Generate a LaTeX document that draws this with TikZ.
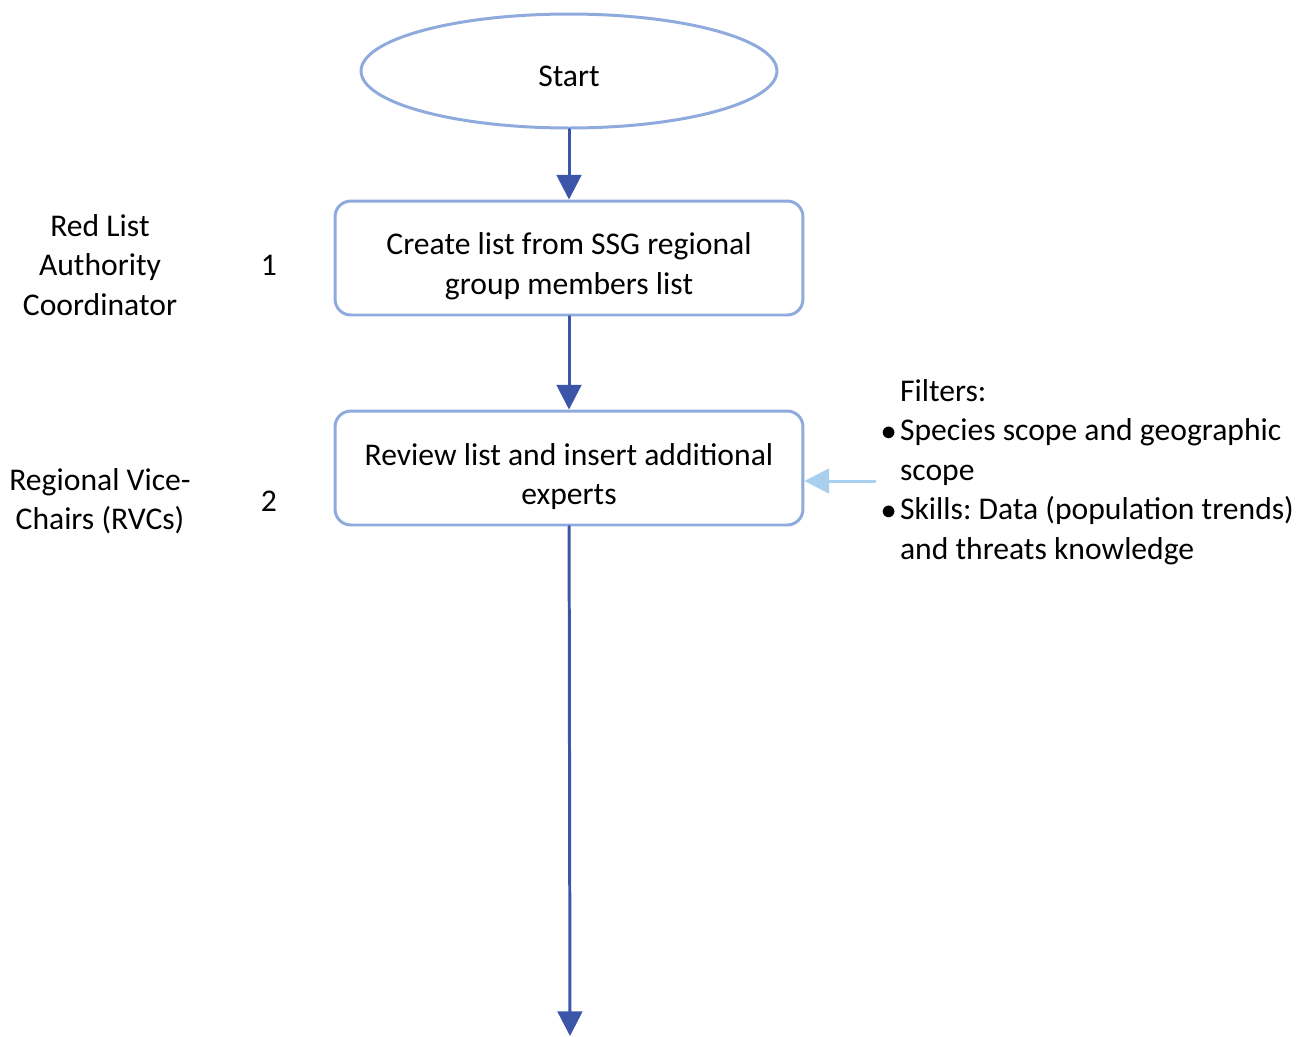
\documentclass[tikz,border=0pt]{standalone}
\usepackage{fontspec}
\setmainfont{Carlito}
\frenchspacing
\usetikzlibrary{arrows.meta,shapes.geometric}
\definecolor{edgeblue}{HTML}{8FAADC}
\definecolor{flowblue}{HTML}{3B56A8}
\definecolor{paleblue}{HTML}{A9CFEE}
\begin{document}
\begin{tikzpicture}[x=0.02cm,y=-0.02cm,line cap=round,line join=round,font=\fontsize{18}{22.5}\selectfont,
	flow/.style={draw=flowblue,line width=1.7pt,-{Triangle[width=14pt,length=14pt]}},
	stepbox/.style={draw=edgeblue,line width=1.7pt,rounded corners=9pt,minimum width=9.36cm,minimum height=2.28cm,align=center},
	role/.style={align=center}]
	\useasboundingbox (0,0) rectangle (1297,1036);
	\node[ellipse,draw=edgeblue,line width=1.7pt,minimum width=8.32cm,minimum height=2.28cm] (start) at (569,71) {\rule{0pt}{18pt}Start};
	\node[stepbox] (create) at (569,258) {\rule{0pt}{22pt}Create list from SSG regional\\group members list};
	\node[stepbox] (review) at (569,468) {\rule{0pt}{22pt}Review list and insert additional\\experts};
	\coordinate (down) at (570,1036);
	\draw[flow] (start) -- (create);
	\draw[flow] (create) -- (review);
	\draw[flow] (review) -- (down);
	% who does what
	\node[role] (rla) at (100,265) {Red List\\Authority\\Coordinator};
	\node (one) at (269,265) {1};
	\node[role] (rvc) at (100,501) {Regional Vice-\\Chairs (RVCs)};
	\node (two) at (269,501) {2};
	% filters
	\node[anchor=north west,inner sep=0pt] (filters) at (881,373) {\begin{tabular}{@{}l@{\hspace{2pt}}l@{}}
		&Filters:\\
		$\bullet$&Species scope and geographic\\
		&scope\\
		$\bullet$&Skills: Data (population trends)\\
		&and threats knowledge
	\end{tabular}};
	\coordinate (feed) at (875,481);
	\draw[draw=paleblue,line width=1.7pt,-{Triangle[width=14pt,length=14pt]}] (feed) -- (review.east |- feed);
\end{tikzpicture}
\end{document}
